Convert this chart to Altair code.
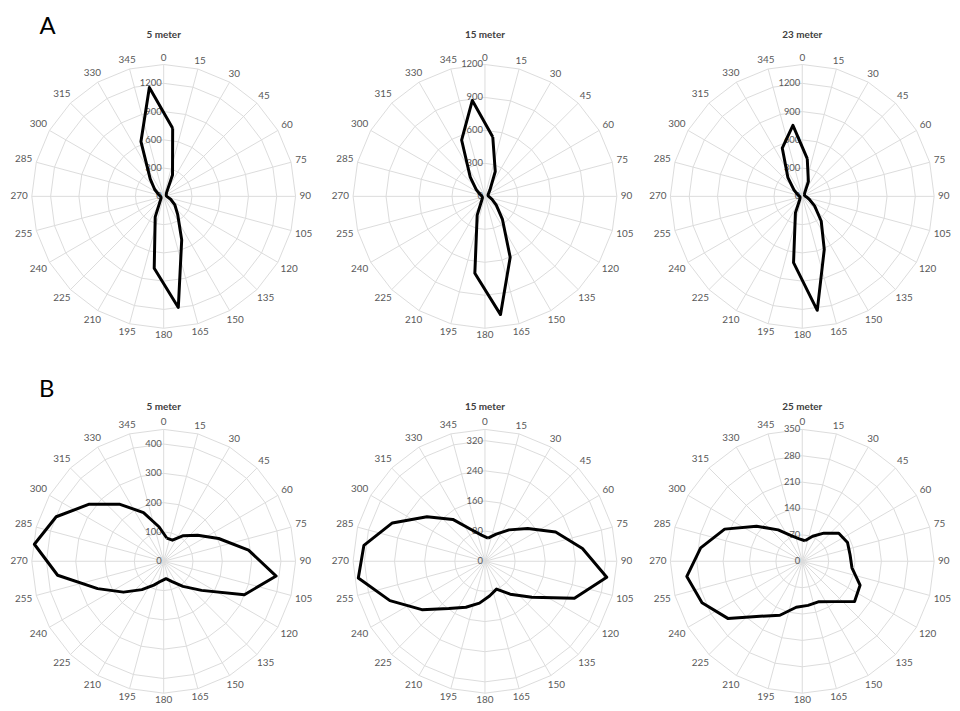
import altair as alt
import pandas as pd

# Spoke / label angles (degrees, clockwise from north)
ANGLES = [0, 15, 30, 45, 60, 75, 90, 105, 120, 135, 150, 165,
          180, 195, 210, 225, 240, 255, 270, 285, 300, 315, 330, 345]
# Direction bins of the measured values (bin centres)
DIRECTIONS = [7.5, 22.5, 37.5, 52.5, 67.5, 82.5, 97.5, 112.5, 127.5, 142.5, 157.5, 172.5,
              187.5, 202.5, 217.5, 232.5, 247.5, 262.5, 277.5, 292.5, 307.5, 322.5, 337.5, 352.5]

A_5 = [730, 245, 50, 35, 30, 30, 40, 80, 150, 245, 500, 1190,
       770, 235, 60, 35, 30, 30, 40, 60, 120, 235, 630, 1165]
A_15 = [545, 245, 75, 40, 30, 30, 40, 70, 130, 260, 600, 1085,
        705, 185, 50, 30, 25, 25, 30, 50, 100, 220, 555, 880]
A_23 = [405, 170, 40, 30, 25, 30, 45, 80, 165, 330, 610, 1220,
        710, 190, 45, 30, 25, 25, 35, 55, 110, 250, 555, 760]
B_5 = [80, 78, 110, 146, 203, 292, 387, 298, 163, 108, 75, 60,
       68, 88, 122, 173, 244, 365, 445, 397, 320, 245, 180, 118]
B_15 = [62, 78, 105, 143, 203, 261, 326, 257, 157, 110, 80, 93,
        112, 132, 158, 211, 273, 339, 324, 266, 194, 140, 90, 70]
B_25 = [55, 72, 94, 122, 130, 128, 133, 166, 175, 135, 116, 118,
        123, 155, 184, 249, 288, 309, 272, 223, 153, 105, 73, 60]

TICKS_A = [0, 300, 600, 900, 1200]
TICKS_B5 = [0, 100, 200, 300, 400]
TICKS_B15 = [0, 80, 160, 240, 320]
TICKS_B25 = [0, 70, 140, 210, 280, 350]

ROW_A = [("5 meter", A_5, TICKS_A, 1400),
         ("15 meter", A_15, TICKS_A, 1200),
         ("23 meter", A_23, TICKS_A, 1400)]
ROW_B = [("5 meter", B_5, TICKS_B5, 450),
         ("15 meter", B_15, TICKS_B15, 350),
         ("25 meter", B_25, TICKS_B25, 350)]
LETTERS = ["A", "B"]

# layout (pixels)
R_PX = 133
COL_W = [316, 316, 320]
COL_CX = [157, 165, 169]
ROW_H = [370, 325]
ROW_CY = [187, 181]
TITLE_Y = [24, 25]
LETTER_XY = [(40, 16), (39, 8)]

FONT = "Lato"
GRID = "#dcdcdc"
TXT = "#595959"
NO_BORDER = alt.ViewBackground(stroke="transparent", strokeWidth=0)


def panel(spec, col, row):
    title, values, ticks, M = spec
    W, cx, H, cy = COL_W[col], COL_CX[col], ROW_H[row], ROW_CY[row]
    k = R_PX / M
    xs = alt.Scale(domain=[-cx / k, (W - cx) / k], nice=False, zero=False)
    ys = alt.Scale(domain=[-(H - cy) / k, cy / k], nice=False, zero=False)

    def X(f):
        return alt.X(f, type="quantitative", scale=xs, axis=None)

    def Y(f):
        return alt.Y(f, type="quantitative", scale=ys, axis=None)

    rad = "datum.angle*PI/180"

    spokes = alt.Chart(pd.DataFrame({"angle": ANGLES})).transform_calculate(
        x0="0", y0="0",
        x1=f"{M}*sin({rad})", y1=f"{M}*cos({rad})",
    ).mark_rule(color=GRID, strokeWidth=1).encode(
        x=X("x0"), y=Y("y0"), x2="x1:Q", y2="y1:Q")

    rings_vals = [t for t in ticks if t > 0]
    if M not in rings_vals:
        rings_vals.append(M)
    ring_rows = []
    for rv in rings_vals:
        for i, a in enumerate(ANGLES + [ANGLES[0]]):
            ring_rows.append({"ring": rv, "angle": a, "ord": i})
    rings = alt.Chart(pd.DataFrame(ring_rows)).transform_calculate(
        x=f"datum.ring*sin({rad})", y=f"datum.ring*cos({rad})",
    ).mark_line(color=GRID, strokeWidth=1).encode(
        x=X("x"), y=Y("y"), detail="ring:N", order="ord:Q")

    labels = alt.Chart(pd.DataFrame({"angle": ANGLES})).transform_calculate(
        lab="toString(datum.angle)",
    ).transform_calculate(
        rr=f"{M / R_PX}*(137 + 2.9*length(datum.lab)*abs(sin({rad})) + 3*abs(cos({rad})))",
    ).transform_calculate(
        x=f"datum.rr*sin({rad})", y=f"datum.rr*cos({rad})",
    ).mark_text(font=FONT, fontSize=10, color=TXT, align="center",
                baseline="middle").encode(
        x=X("x"), y=Y("y"), text="lab:N")

    vlabels = alt.Chart(pd.DataFrame({"tick": ticks})).transform_calculate(
        x0="0",
    ).mark_text(font=FONT, fontSize=9.5, color=TXT, align="right",
                baseline="middle", dx=-2).encode(
        x=X("x0"), y=Y("tick"), text=alt.Text("tick:Q", format="d"))

    line_df = pd.DataFrame({"direction": DIRECTIONS + [DIRECTIONS[0]],
                            "value": values + [values[0]],
                            "ord": list(range(len(DIRECTIONS) + 1))})
    line = alt.Chart(line_df).transform_calculate(
        x="datum.value*sin(datum.direction*PI/180)",
        y="datum.value*cos(datum.direction*PI/180)",
    ).mark_line(color="black", strokeWidth=3, strokeJoin="round").encode(
        x=X("x"), y=Y("y"), order="ord:Q")

    ttl = alt.Chart(pd.DataFrame({"t": [title]})).mark_text(
        font=FONT, fontSize=10, fontWeight="bold", color="#404040",
        align="center", baseline="middle").encode(
        x=alt.value(cx), y=alt.value(TITLE_Y[row]), text="t:N")

    layers = [spokes, rings, labels, vlabels, line, ttl]
    if col == 0:
        lx, ly = LETTER_XY[row]
        letter = alt.Chart(pd.DataFrame({"t": [LETTERS[row]]})).mark_text(
            font=FONT, fontSize=24, color="black", align="center",
            baseline="middle").encode(x=alt.value(lx), y=alt.value(ly), text="t:N")
        layers.append(letter)
    layers = [l.properties(view=NO_BORDER) for l in layers]
    return alt.layer(*layers).properties(width=W, height=H, view=NO_BORDER)


row1 = alt.hconcat(*[panel(s, i, 0) for i, s in enumerate(ROW_A)], spacing=0)
row2 = alt.hconcat(*[panel(s, i, 1) for i, s in enumerate(ROW_B)], spacing=0)

chart = alt.vconcat(row1, row2, spacing=0).properties(
    padding={"left": 0, "top": 0, "right": 0, "bottom": 0}
).configure_view(stroke="transparent", strokeWidth=0).configure(background="white")

chart.save("out.html", embed_options={"renderer": "svg", "actions": False})
